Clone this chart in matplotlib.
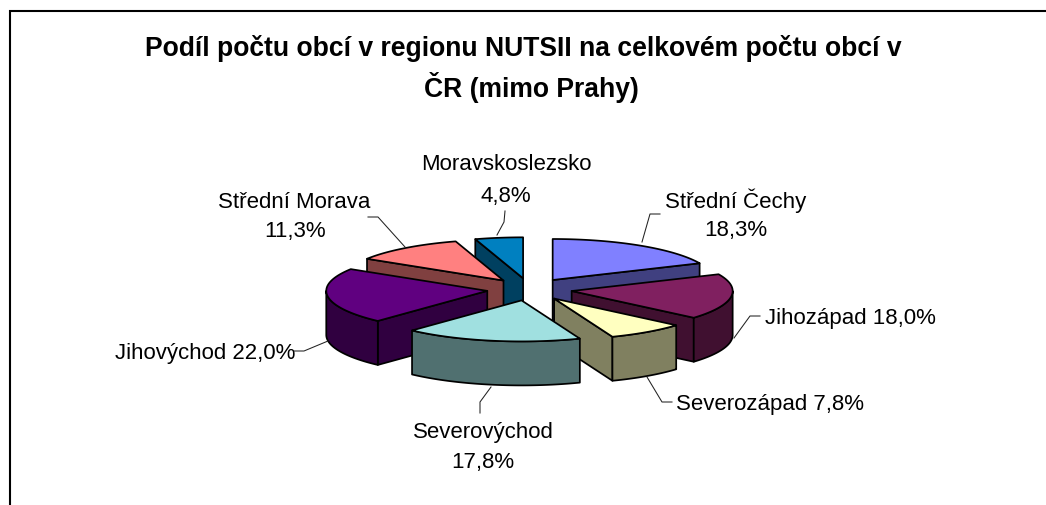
import numpy as np
import matplotlib
matplotlib.use("Agg")
import matplotlib.pyplot as plt
from matplotlib.patches import Polygon

categories = ["Střední Čechy", "Jihozápad", "Severozápad", "Severovýchod",
              "Jihovýchod", "Střední Morava", "Moravskoslezsko"]
shares = [18.3, 18.0, 7.8, 17.8, 22.0, 11.3, 4.8]
top_colors = ["#8080FF", "#802060", "#FFFFC0", "#A0E0E0", "#600080", "#FF8080", "#0080C0"]
side_colors = ["#404080", "#401030", "#808060", "#507070", "#300040", "#804040", "#004060"]
title_lines = ["Podíl počtu obcí v regionu NUTSII na celkovém počtu obcí v", "ČR (mimo Prahy)"]

W, H = 1046, 505
CX, CY, RX, RY = 529.5, 289.4, 161.0, 41.0
EX, EY, DEPTH = 42.6, 11.2, 44.0
FONT = "Liberation Sans"
EDGE = 1.25
LABEL_DY = 2.5

# label layout: one entry per category, list of (x, y) for each text line, then leader polyline
label_layout = {
    "Střední Čechy": dict(lines=[(735.5, 198), (736, 228)], leader=[(642, 242), (650, 214), (660, 214)]),
    "Jihozápad": dict(lines=[(850.5, 316)], leader=[(734, 338), (750, 316), (760, 316)]),
    "Severozápad": dict(lines=[(770, 402)], leader=[(647, 377), (662, 402), (672, 402)]),
    "Severovýchod": dict(lines=[(483, 430), (483, 460)], leader=[(491, 387), (480, 402), (480, 413)]),
    "Jihovýchod": dict(lines=[(205, 351)], leader=[(328, 341), (304, 351), (294, 351)]),
    "Střední Morava": dict(lines=[(294, 200), (295, 229)], leader=[(405, 247), (378, 217), (368, 217)]),
    "Moravskoslezsko": dict(lines=[(506, 162), (506, 194)], leader=[(497, 235), (504, 222), (505, 211)]),
}

fig = plt.figure(figsize=(W / 100, H / 100), dpi=100, facecolor="white")
ax = fig.add_axes([0, 0, 1, 1])
ax.set_xlim(0, W)
ax.set_ylim(H, 0)
ax.axis("off")

# frame (top and left edges)
ax.plot([9.5, 9.5, W], [H, 10.5, 10.5], color="black", lw=1.5, solid_joinstyle="miter", zorder=1)

vals = np.array(shares, dtype=float)
cum = np.concatenate([[0], np.cumsum(vals)]) / vals.sum() * 360.0


def rim(ax0, ay0, a, b, dz=0.0):
    t = np.radians(np.linspace(a, b, max(int(abs(b - a)) * 2, 2)))
    return np.column_stack([ax0 + RX * np.sin(t), ay0 - RY * np.cos(t) + dz])


def pt(ax0, ay0, a, dz=0.0):
    r = np.radians(a)
    return np.array([ax0 + RX * np.sin(r), ay0 - RY * np.cos(r) + dz])


def poly(points, color, z):
    ax.add_patch(Polygon(points, closed=True, facecolor=color, edgecolor="black",
                         lw=EDGE, joinstyle="round", zorder=z))


# paint back to front
order = [0, 6, 5, 4, 1, 2, 3]
for rank, i in enumerate(order):
    a, b = cum[i], cum[i + 1]
    mid = np.radians((a + b) / 2)
    ox = CX + EX * np.sin(mid)
    oy = CY - EY * np.cos(mid)
    z = 2 + rank
    apex = np.array([ox, oy])
    apex_low = apex + [0, DEPTH]
    if a > 180:  # start cut face looks at the viewer
        p = pt(ox, oy, a)
        poly([apex, p, p + [0, DEPTH], apex_low], side_colors[i], z)
    if b < 180:  # end cut face looks at the viewer
        p = pt(ox, oy, b)
        poly([apex, p, p + [0, DEPTH], apex_low], side_colors[i], z)
    lo, hi = max(a, 90), min(b, 270)
    if hi > lo:  # outer wall, front half only
        upper = rim(ox, oy, lo, hi)
        lower = rim(ox, oy, lo, hi, DEPTH)
        poly(np.vstack([upper, lower[::-1]]), side_colors[i], z)
    poly(np.vstack([[apex], rim(ox, oy, a, b)]), top_colors[i], z)


def fmt(name, v):
    return f"{v:.1f}".replace(".", ",") + "%"


for name, v in zip(categories, shares):
    lay = label_layout[name]
    pts = np.array(lay["leader"], dtype=float)
    ax.plot(pts[:, 0], pts[:, 1], color="#222222", lw=0.75, zorder=20)
    if len(lay["lines"]) == 2:
        texts = [name, fmt(name, v)]
    else:
        texts = [f"{name} {fmt(name, v)}"]
    for (x, y), s in zip(lay["lines"], texts):
        ax.text(x, y + LABEL_DY, s, ha="center", va="center", fontsize=16, family=FONT, color="black", zorder=21)

ax.text(523.5, 49, title_lines[0], ha="center", va="center", fontsize=19.1, fontweight="bold",
        family=FONT, color="black", zorder=21)
ax.text(531.5, 87.5, title_lines[1], ha="center", va="center", fontsize=19.1, fontweight="bold",
        family=FONT, color="black", zorder=21)

fig.savefig("out.png", dpi=100, facecolor="white")
